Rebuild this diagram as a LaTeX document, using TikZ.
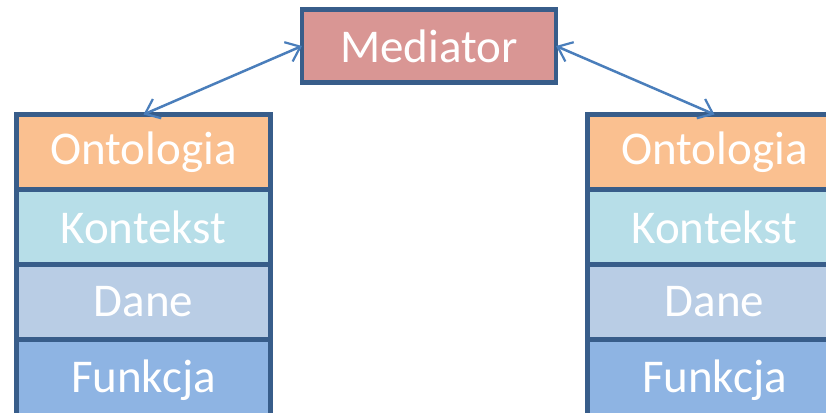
\documentclass[tikz,border=0pt]{standalone}
\usepackage{fontspec}
\setmainfont{Carlito}
\usetikzlibrary{positioning,arrows.meta}

\definecolor{frame}{HTML}{385D8A}
\definecolor{link}{HTML}{4A7EBB}
\definecolor{medfill}{HTML}{D99694}
\definecolor{ontfill}{HTML}{FAC090}
\definecolor{ctxfill}{HTML}{B7DEE8}
\definecolor{datfill}{HTML}{B9CDE5}
\definecolor{funfill}{HTML}{8EB4E3}

\begin{document}
\begin{tikzpicture}[
        >={Straight Barb[length=13pt,width=21pt,line width=2.2pt]},
        layer/.style={draw=frame, line width=4.5pt, minimum width=254pt, minimum height=75pt,
          inner sep=0pt, outer sep=0pt, text=white, font=\fontsize{47}{47}\selectfont},
        link/.style={draw=link, line width=2.5pt, <->}
      ]
      \useasboundingbox (0,0) rectangle (826pt,412pt);

      \node (med) [layer, fill=medfill, minimum height=73pt] at (429pt,366pt) {Mediator};

      % left stack
      \node (ontl) [layer, fill=ontfill, anchor=north] at (143.5pt,297.5pt) {Ontologia};
      \node (ctxl) [layer, fill=ctxfill, below=0pt of ontl] {Kontekst};
      \node (datl) [layer, fill=datfill, below=0pt of ctxl] {Dane};
      \node (funl) [layer, fill=funfill, below=0pt of datl, text depth=6pt, minimum height=80pt] {Funkcja};

      % right stack
      \node (ontr) [layer, fill=ontfill, anchor=north] at (714.5pt,297.5pt) {Ontologia};
      \node (ctxr) [layer, fill=ctxfill, below=0pt of ontr] {Kontekst};
      \node (datr) [layer, fill=datfill, below=0pt of ctxr] {Dane};
      \node (funr) [layer, fill=funfill, below=0pt of datr, text depth=6pt, minimum height=80pt] {Funkcja};

      \draw[link] (ontl.north) -- (med.west);
      \draw[link] (med.east) -- (ontr.north);

    \end{tikzpicture}
\end{document}
